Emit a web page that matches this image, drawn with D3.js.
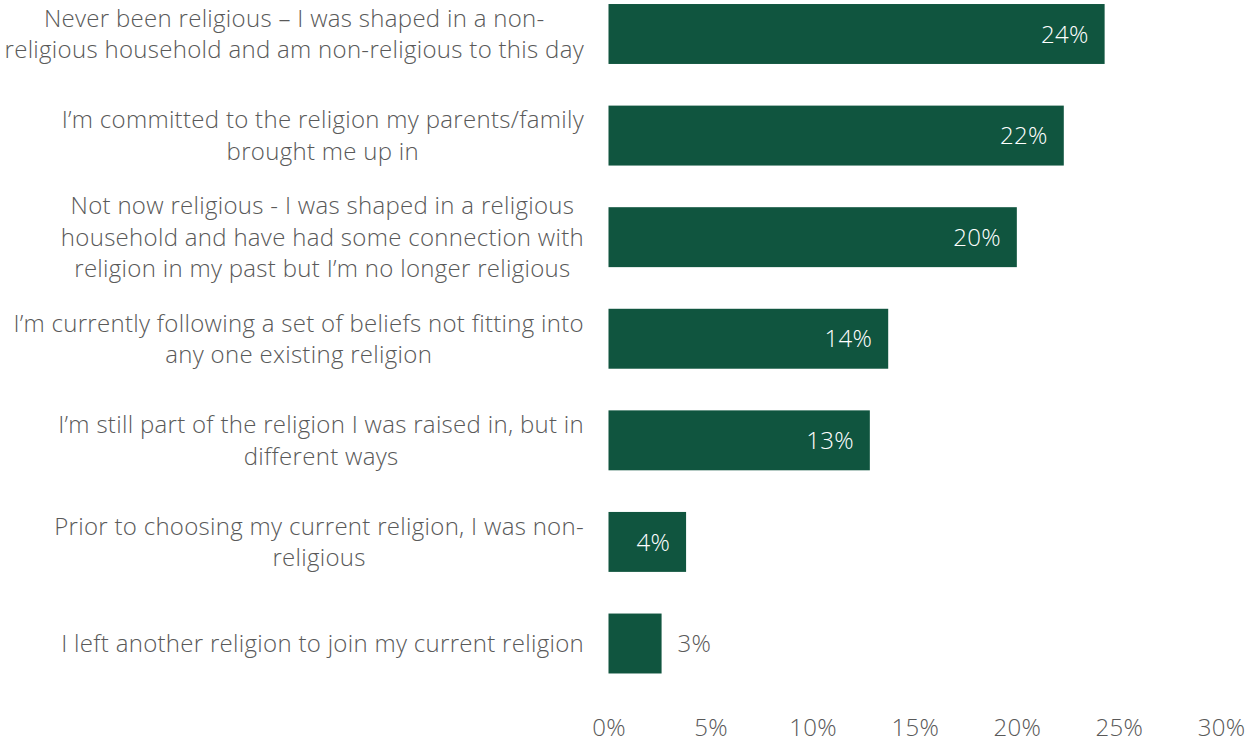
<!DOCTYPE html>
<html>
<head>
<meta charset="utf-8">
<script src="https://cdn.jsdelivr.net/npm/d3@7"></script>
<style>
  html, body { margin: 0; padding: 0; background: #ffffff; }
  svg { display: block; }
  text { font-family: "Open Sans", Lato, sans-serif; font-weight: 300; letter-spacing: 0.3px; }
</style>
</head>
<body>
<svg id="chart" width="1255" height="742"></svg>
<script>
// Survey responses: which statement best describes your religious journey
const categories = [
  ["Never been religious \u2013 I was shaped in a non-", "religious household and am non-religious to this day"],
  ["I\u2019m committed to the religion my parents/family", "brought me up in"],
  ["Not now religious - I was shaped in a religious", "household and have had some connection with", "religion in my past but I\u2019m no longer religious"],
  ["I\u2019m currently following a set of beliefs not fitting into", "any one existing religion"],
  ["I\u2019m still part of the religion I was raised in, but in", "different ways"],
  ["Prior to choosing my current religion, I was non-", "religious"],
  ["I left another religion to join my current religion"]
];
const values = [24.3, 22.3, 20.0, 13.7, 12.8, 3.8, 2.6];
const tickValues = [0, 5, 10, 15, 20, 25, 30];

const svg = d3.select("#chart");
const barColor = "#10553f";
const textColor = "#595959";
const fontSize = 24;

const x = d3.scaleLinear().domain([0, 30]).range([608.5, 1221]);
const y = d3.scaleBand()
  .domain(d3.range(categories.length))
  .range([-16.8, 694.3])
  .paddingInner(0.41)
  .paddingOuter(0.205);

// Bars
svg.append("g").selectAll("rect")
  .data(values)
  .join("rect")
  .attr("x", x(0))
  .attr("y", (d, i) => y(i))
  .attr("width", d => x(d) - x(0))
  .attr("height", y.bandwidth())
  .attr("fill", barColor);

// Value labels: inside the bar when it is wide enough, otherwise just past its end
svg.append("g").selectAll("text")
  .data(values)
  .join("text")
  .each(function (d, i) {
    const inside = x(d) - x(0) > 70;
    d3.select(this)
      .attr("x", inside ? x(d) - 16 : x(d) + 16)
      .attr("y", y(i) + y.bandwidth() / 2)
      .attr("dy", "0.36em")
      .attr("text-anchor", inside ? "end" : "start")
      .attr("fill", inside ? "#ffffff" : textColor)
      .style("font-size", fontSize + "px")
      .text(Math.round(d) + "%");
  });

// Category labels: centred multi-line blocks, right edge aligned beside the bars
const lineHeight = 31.5;
const labelRight = 584;
const catG = svg.append("g");
categories.forEach((lines, i) => {
  const t = catG.append("text")
    .attr("fill", textColor)
    .style("font-size", fontSize + "px")
    .attr("text-anchor", "middle");
  const cy = y(i) + y.bandwidth() / 2;
  const top = cy - (lines.length - 1) * lineHeight / 2;
  lines.forEach((ln, k) => {
    t.append("tspan").attr("y", top + k * lineHeight).attr("dy", "0.36em").text(ln);
  });
  let maxW = 0;
  t.selectAll("tspan").each(function () { maxW = Math.max(maxW, this.getComputedTextLength()); });
  t.selectAll("tspan").attr("x", labelRight - maxW / 2);
});

// X axis (labels only)
const axis = d3.axisBottom(x)
  .tickValues(tickValues)
  .tickFormat(d => d + "%")
  .tickSize(0)
  .tickPadding(0);
const ax = svg.append("g").attr("transform", "translate(0,719)").call(axis);
ax.select(".domain").remove();
ax.selectAll("text")
  .attr("fill", textColor)
  .style("font-size", fontSize + "px")
  .style("font-family", "'Open Sans', Lato, sans-serif")
  .style("font-weight", 300)
  .attr("dy", "0.71em");
</script>
</body>
</html>
